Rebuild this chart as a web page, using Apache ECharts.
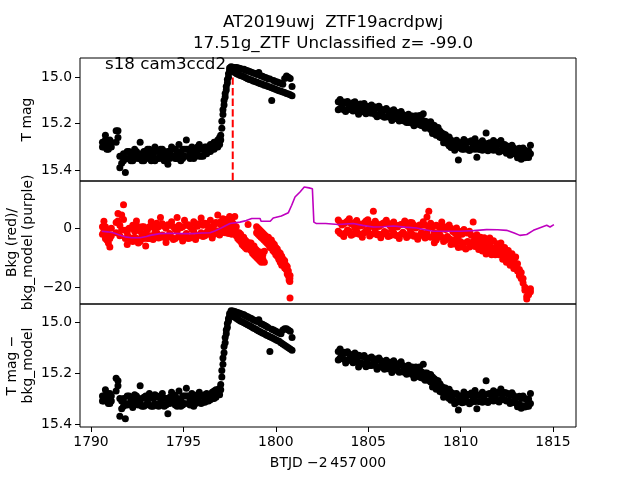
<!DOCTYPE html>
<html><head><meta charset="utf-8">
<script src="https://cdn.jsdelivr.net/npm/echarts@6.0.0/dist/echarts.min.js"></script>
<style>html,body{margin:0;padding:0;background:#fff}#c{width:640px;height:480px}</style>
</head><body><div id="c"></div>
<script>
// ---- time stamps (BTJD - 2457000) ----
const tA = [1790.62,1790.70,1790.78,1790.86,1790.94,1791.02,1791.10,
1791.36,1791.46,1791.56,1791.66,1791.76,1791.86,1791.96,
1792.06,1792.16,1792.26,1792.36,1792.46,1792.56,1792.66,1792.76,1792.86,1792.96,
1793.06,1793.16,1793.26,1793.36,1793.46,1793.56,1793.66,1793.76,1793.86,1793.96,
1794.06,1794.16,1794.26,1794.36,1794.46,1794.56,1794.66,1794.76,1794.86,1794.96,
1795.06,1795.16,1795.26,1795.36,1795.46,1795.56,1795.66,1795.76,1795.86,1795.96,
1796.06,1796.16,1796.26,1796.36,1796.46,1796.56,1796.66,1796.76,1796.86,1796.96,
1797.02,1797.08,1797.14,1797.20,1797.26,1797.32,1797.38,1797.44,1797.50,
1797.58,1797.68,1797.78,1797.88,1797.98,1798.08,1798.18,1798.28,1798.38,1798.48,
1798.58,1798.68,1798.78,1798.88,1798.98,1799.08,1799.18,1799.28,1799.38,1799.48,
1799.58,1799.68,1799.78,1799.88,1799.98,1800.08,1800.18,1800.28,1800.38,1800.48,
1800.58,1800.68,1800.78,1800.88];
const tB = [1803.38,1803.48,1803.58,1803.68,1803.78,1803.88,1803.98,1804.08,1804.18,1804.28,
1804.38,1804.48,1804.58,1804.68,1804.78,1804.88,1804.98,1805.08,1805.18,1805.28,
1805.38,1805.48,1805.58,1805.68,1805.78,1805.88,1805.98,1806.08,1806.18,1806.28,
1806.38,1806.48,1806.58,1806.68,1806.78,1806.88,1806.98,1807.08,1807.18,1807.28,
1807.38,1807.48,1807.58,1807.68,1807.78,1807.88,1807.98,1808.08,1808.18,1808.28,
1808.38,1808.48,1808.58,1808.68,1808.78,1808.88,1808.98,1809.08,1809.18,1809.28,
1809.38,1809.48,1809.58,1809.68,1809.78,1809.88,1809.98,1810.08,1810.18,1810.28,
1810.38,1810.48,1810.58,1810.68,1810.78,1810.88,1810.98,1811.08,1811.18,1811.28,
1811.38,1811.48,1811.58,1811.68,1811.78,1811.88,1811.98,1812.08,1812.18,1812.28,
1812.38,1812.48,1812.58,1812.68,1812.78,1812.88,1812.98,1813.08,1813.18,1813.28,
1813.38,1813.48,1813.58,1813.68,1813.78];

// ---- panel 1: T mag (two readings per time stamp, upper/lower part of the cloud) ----
const magA = [15.30,15.28,15.25,15.29,15.31,15.27,15.30,
15.23,15.26,15.39,15.34,15.36,15.41,15.32,
15.35,15.33,15.36,15.31,15.34,15.35,15.28,15.33,15.36,15.32,
15.34,15.31,15.36,15.33,15.30,15.35,15.32,15.34,15.31,15.36,
15.33,15.375,15.32,15.30,15.34,15.31,15.35,15.29,15.33,15.35,
15.31,15.27,15.34,15.32,15.30,15.35,15.31,15.33,15.29,15.34,
15.31,15.33,15.30,15.32,15.29,15.31,15.28,15.30,15.27,15.29,
15.25,15.19,15.14,15.10,15.07,15.04,15.01,14.985,14.96,
14.955,14.957,14.958,14.958,14.960,14.962,14.965,14.966,14.970,14.972,
14.975,14.978,14.982,14.984,14.988,14.980,14.993,14.996,15.000,15.002,
15.006,15.008,15.100,15.014,15.018,15.020,15.024,15.026,15.030,15.005,
14.995,15.000,15.005,15.040];
const magA2 = [15.28,15.30,15.27,15.31,15.29,15.30,15.28,
15.28,15.23,15.34,15.37,15.33,15.35,15.35,
15.32,15.36,15.33,15.35,15.32,15.33,15.35,15.36,15.32,15.35,
15.31,15.35,15.32,15.35,15.36,15.32,15.35,15.31,15.35,15.32,
15.35,15.32,15.35,15.34,15.31,15.35,15.32,15.34,15.36,15.31,
15.34,15.31,15.31,15.35,15.33,15.31,15.34,15.30,15.34,15.31,
15.34,15.30,15.33,15.30,15.32,15.29,15.31,15.28,15.30,15.26,
15.27,15.22,15.16,15.12,15.085,15.055,15.025,15.00,14.97,
14.965,14.975,14.980,14.985,14.988,14.992,14.995,14.998,15.002,15.006,
15.010,15.012,15.016,15.018,15.022,15.025,15.028,15.030,15.034,15.036,
15.040,15.042,15.045,15.048,15.052,15.055,15.058,15.060,15.064,15.066,
15.070,15.072,15.075,15.080];
const magB = [15.140,15.096,15.127,15.107,15.148,15.104,15.135,15.118,15.145,15.105,
15.128,15.159,15.115,15.144,15.113,15.157,15.129,15.153,15.120,15.147,
15.128,15.170,15.125,15.158,15.145,15.172,15.135,15.170,15.145,15.186,
15.140,15.170,15.154,15.189,15.147,15.183,15.167,15.195,15.159,15.183,
15.167,15.209,15.166,15.198,15.165,15.208,15.157,15.220,15.193,15.219,
15.192,15.242,15.208,15.250,15.217,15.258,15.240,15.282,15.248,15.285,
15.257,15.303,15.280,15.315,15.271,15.356,15.287,15.310,15.268,15.303,
15.278,15.316,15.274,15.299,15.265,15.345,15.283,15.311,15.274,15.304,
15.240,15.317,15.282,15.310,15.273,15.303,15.281,15.322,15.272,15.313,
15.290,15.327,15.299,15.336,15.293,15.330,15.312,15.347,15.306,15.353,
15.305,15.347,15.319,15.346,15.293];
const magB2 = [15.105,15.135,15.112,15.140,15.110,15.138,15.115,15.140,15.110,15.140,
15.145,15.118,15.142,15.120,15.150,15.125,15.152,15.125,15.155,15.130,
15.160,15.135,15.165,15.138,15.168,15.140,15.170,15.145,15.172,15.150,
15.178,15.150,15.180,15.158,15.185,15.160,15.190,15.165,15.195,15.170,
15.198,15.175,15.200,15.180,15.205,15.180,15.210,15.190,15.215,15.198,
15.225,15.205,15.235,15.218,15.250,15.232,15.262,15.245,15.278,15.262,
15.295,15.270,15.300,15.278,15.305,15.282,15.305,15.280,15.310,15.285,
15.310,15.280,15.310,15.280,15.310,15.285,15.310,15.285,15.315,15.285,
15.310,15.285,15.310,15.288,15.315,15.290,15.315,15.290,15.318,15.295,
15.318,15.295,15.322,15.300,15.328,15.305,15.330,15.310,15.335,15.315,
15.340,15.315,15.345,15.318,15.330];
const eventT = 1797.67;
const eventSpan = [14.955, 15.447];

// ---- panel 2: background (red) and background model (purple) ----
const bkgA = [0.5,2.4,-3.5,-1.0,-5.0,-6.3,-2.5,
2.0,5.0,-2.5,4.5,8.0,-0.7,-5.5,
0.0,-4.0,1.0,-3.0,2.5,-5.0,-1.0,-2.5,0.5,-6.0,
-0.5,-3.5,2.2,-3.8,-0.8,1.7,-3.3,3.7,-2.3,0.7,
-4.8,1.2,-1.8,2.2,-3.8,-0.3,3.7,-2.8,0.2,-4.3,
2.7,-1.8,1.2,-3.3,-0.3,2.2,-3.8,0.7,-2.3,3.5,
-2.8,1.7,-1.3,0.2,2.7,-3.3,1.2,-0.8,4.5,-2.3,
2.2,0.2,3.2,-1.3,1.7,-0.3,2.7,-1.8,4.0];
const bkgA2 = [-2.0,-1.0,0.5,-4.0,-2.5,-3.5,0.0,
-1.5,2.5,1.0,-0.5,3.0,-3.5,-1.5,
-3.0,0.0,-4.5,-1.0,-3.5,0.5,-4.5,0.5,-3.5,-1.5,
-3.5,0.5,-2.5,0.5,-3.0,-1.5,0.5,-3.0,1.5,-3.0,
0.0,-3.0,1.0,-3.0,0.5,-3.5,-1.0,1.0,-3.0,0.5,
-2.5,1.0,-3.5,0.5,-3.0,-1.0,1.5,-2.5,1.5,-1.5,
1.0,-2.5,1.5,-2.0,-1.0,0.5,-2.0,2.0,-1.0,1.5,
-1.0,2.0,-0.5,2.5,-1.5,3.0,0.0,2.0,0.5];
const tDrop = [1797.62,1797.70,1797.78,1797.86,1797.94,1798.02,1798.10,1798.18,1798.26,1798.34,1798.42,1798.50,
1798.58,1798.66,1798.74,1798.82,1798.90,1798.98,1799.06,1799.14,1799.22,1799.30,1799.38,
1798.96,1799.04,1799.12,1799.20,1799.28,1799.36,1799.44,1799.52,1799.60,1799.68,1799.76,1799.84,1799.92,
1800.00,1800.08,1800.16,1800.24,1800.32,1800.40,1800.48,1800.56,1800.62,1800.68,1800.72,1800.76,1800.77];
const bkgDrop = [2.5,-1.0,4.0,-2.5,-1.5,-4.0,-2.0,-5.5,-3.0,-6.5,-4.5,1.25,
-7.0,-5.0,-8.5,-6.0,-9.5,-7.5,-10.5,-8.0,-11.5,-9.0,-7.8,
0.5,-2.0,-0.5,-3.0,-1.5,-4.0,-2.5,-5.0,-3.0,-6.5,-4.0,-7.5,-5.5,
-9.0,-7.0,-10.5,-8.5,-12.5,-10.5,-13.5,-12.5,-15.5,-14.5,-17.5,-18.0,-23.6];
const bkgDrop2 = [-2.0,1.5,-1.0,0.5,-3.5,-1.5,-4.5,-3.0,-6.0,-4.0,-7.0,-5.5,
-5.0,-7.5,-6.5,-9.0,-7.0,-10.0,-8.5,-11.0,-9.5,-10.5,-11.5,
-1.5,0.0,-2.5,-1.0,-3.5,-2.0,-4.5,-3.0,-5.5,-4.5,-6.5,-5.0,-8.0,
-6.5,-9.5,-8.0,-11.5,-9.5,-12.5,-11.0,-14.0,-13.0,-16.0,-16.5,-17.0,-16.0];
const bkgB = [2.8,-1.7,1.1,-2.8,2.0,-0.6,3.2,-2.4,1.3,0.1,
2.6,-1.9,0.8,-3.0,1.8,-0.8,2.9,-2.6,1.1,5.8,
2.4,-2.2,0.6,-3.2,1.6,-1.1,2.7,-2.8,0.9,-0.4,
2.1,-2.4,0.4,-3.5,1.3,-1.3,2.5,-3.1,0.6,-0.6,
1.9,-2.7,0.1,-3.7,1.1,-1.5,2.2,-3.3,3.8,5.8,
1.7,-2.8,-4.9,-4.0,0.7,-2.1,2.1,-4.5,-0.4,-2.8,
1.1,-5.5,-1.1,-5.3,0.1,-6.5,-1.1,-6.3,-0.4,-7.0,
-1.6,-6.3,-2.4,2.1,-6.2,-2.2,-7.2,-3.0,-7.7,-3.2,
-8.7,-5.0,-3.3,-9.0,-4.2,-9.0,-5.2,-9.0,-5.0,-10.5,
-6.5,-11.5,-7.5,-12.5,-8.6,-13.6,-9.7,-14.5,-16.0,-15.0,
-18.5,-20.0,-23.0,-22.5,-20.5];
const bkgB2 = [-1.0,2.0,-2.0,1.5,-1.5,2.5,-1.0,1.5,-2.0,2.0,
-1.0,1.5,-2.0,1.0,-1.5,2.5,-0.5,1.5,-2.0,0.5,
-1.0,1.5,-2.0,1.0,-2.0,2.0,-1.5,1.5,-2.5,1.5,
-1.5,1.0,-2.5,1.0,-2.0,1.5,-2.0,1.0,-2.5,2.0,
-2.0,1.0,-2.5,0.5,-2.5,1.0,-2.0,1.0,-1.5,0.5,
-3.0,0.5,-1.5,1.0,-3.0,0.0,-3.0,0.5,-4.0,0.5,
-3.5,0.0,-4.0,-1.5,-3.5,-2.5,-4.5,-2.0,-5.0,-1.5,
-4.5,-1.0,-5.5,-4.5,-3.5,-6.0,-4.5,-6.0,-5.0,-6.5,
-5.5,-7.5,-6.0,-6.5,-8.0,-6.5,-8.0,-6.5,-8.5,-7.5,
-9.0,-9.0,-10.5,-10.0,-11.5,-11.0,-12.0,-12.0,-14.0,-17.0,
-17.0,-21.0,-24.0,-21.0,-21.5];
const modelT = [1790.58,1790.9,1791.2,1791.5,1791.84,1792.2,1792.65,1793.0,1793.2,1793.73,1794.3,1794.9,
1795.5,1796.0,1796.44,1796.7,1796.98,1797.25,1797.52,1798.06,1798.4,1798.7,1799.15,1799.2,1799.7,1799.86,
1800.3,1800.68,1800.86,1801.04,1801.31,1801.54,1801.8,1801.98,1802.06,1802.2,1802.7,1803.38,1804.19,1804.7,
1805.28,1805.8,1806.36,1807.0,1807.62,1808.0,1808.52,1809.3,1809.97,1810.7,1811.41,1812.0,1812.49,1812.9,
1813.21,1813.58,1813.94,1814.3,1814.66,1814.84,1815.05];
const modelV = [-1.0,-1.2,-1.5,-2.2,-2.9,-3.2,-3.2,-2.8,-2.4,-1.8,-1.7,-1.8,
-1.8,-1.6,-1.5,-0.9,-0.1,0.8,1.6,2.1,2.6,3.3,3.3,2.4,2.4,3.5,
4.2,5.3,7.8,10.6,12.3,14.0,13.7,13.4,2.1,1.6,1.6,1.3,1.6,1.0,
0.45,0.5,0.8,0.4,0.1,-0.4,-1.0,-1.0,-1.0,-0.8,-0.45,-0.5,-0.7,-1.6,
-2.4,-2.1,-0.7,0.2,1.0,0.45,1.25];

// ---- panel 3: T mag - bkg_model ----
const corrA = [15.31,15.29,15.265,15.30,15.32,15.28,15.31,
15.22,15.25,15.37,15.31,15.33,15.38,15.29,
15.32,15.30,15.335,15.285,15.31,15.325,15.25,15.30,15.33,15.29,
15.315,15.28,15.33,15.30,15.285,15.325,15.295,15.315,15.28,15.33,
15.30,15.36,15.295,15.275,15.315,15.29,15.33,15.27,15.305,15.325,
15.29,15.26,15.32,15.30,15.28,15.33,15.295,15.31,15.275,15.32,
15.29,15.315,15.28,15.31,15.285,15.30,15.27,15.295,15.265,15.285,
15.245,15.19,15.14,15.095,15.06,15.03,15.005,14.985,14.965,
14.955,14.956,14.958,14.960,14.962,14.965,14.968,14.970,14.975,14.978,
14.982,14.985,14.990,14.993,14.997,14.990,15.005,15.008,15.012,15.016,
15.020,15.115,15.027,15.030,15.034,15.038,15.042,15.045,15.030,15.025,
15.025,15.030,15.035,15.060];
const corrA2 = [15.29,15.31,15.30,15.28,15.30,15.32,15.29,
15.27,15.23,15.30,15.34,15.30,15.32,15.325,
15.29,15.325,15.30,15.32,15.29,15.30,15.32,15.33,15.295,15.325,
15.29,15.325,15.295,15.33,15.32,15.29,15.33,15.29,15.325,15.30,
15.325,15.30,15.32,15.31,15.285,15.325,15.30,15.315,15.33,15.29,
15.32,15.29,15.29,15.325,15.31,15.29,15.32,15.285,15.315,15.29,
15.315,15.285,15.31,15.285,15.305,15.275,15.30,15.265,15.285,15.26,
15.265,15.215,15.165,15.12,15.08,15.045,15.02,14.995,14.975,
14.968,14.975,14.980,14.985,14.990,14.995,14.998,15.002,15.006,15.010,
15.014,15.018,15.022,15.025,15.030,15.034,15.038,15.042,15.045,15.050,
15.053,15.057,15.060,15.064,15.068,15.072,15.075,15.080,15.085,15.090,
15.095,15.100,15.105,15.110];
const corrB = [15.148,15.105,15.136,15.118,15.160,15.116,15.148,15.132,15.159,15.121,
15.145,15.176,15.133,15.162,15.131,15.175,15.146,15.170,15.137,15.163,
15.144,15.185,15.140,15.173,15.159,15.185,15.149,15.183,15.157,15.198,
15.151,15.181,15.164,15.197,15.155,15.192,15.176,15.204,15.169,15.193,
15.176,15.219,15.176,15.208,15.176,15.218,15.165,15.228,15.200,15.229,
15.205,15.255,15.222,15.263,15.230,15.272,15.253,15.295,15.259,15.294,
15.263,15.307,15.281,15.321,15.280,15.345,15.295,15.317,15.274,15.309,
15.284,15.321,15.278,15.303,15.268,15.340,15.286,15.312,15.275,15.305,
15.230,15.316,15.280,15.307,15.269,15.298,15.275,15.314,15.262,15.301,
15.276,15.310,15.282,15.320,15.277,15.314,15.296,15.332,15.291,15.338,
15.290,15.333,15.305,15.330,15.280];
const corrB2 = [15.115,15.140,15.122,15.145,15.120,15.148,15.125,15.150,15.128,15.155,
15.155,15.130,15.160,15.135,15.165,15.140,15.165,15.140,15.170,15.145,
15.170,15.148,15.175,15.150,15.178,15.155,15.180,15.158,15.182,15.160,
15.185,15.162,15.190,15.168,15.195,15.170,15.198,15.175,15.200,15.180,
15.205,15.185,15.210,15.190,15.215,15.195,15.220,15.200,15.222,15.205,
15.235,15.215,15.245,15.228,15.260,15.242,15.275,15.258,15.288,15.270,
15.300,15.275,15.305,15.282,15.315,15.290,15.312,15.288,15.315,15.290,
15.312,15.285,15.315,15.285,15.312,15.288,15.312,15.285,15.315,15.285,
15.310,15.282,15.308,15.285,15.310,15.282,15.308,15.280,15.305,15.282,
15.305,15.278,15.308,15.285,15.312,15.288,15.318,15.295,15.322,15.300,
15.328,15.300,15.330,15.302,15.320];

// ---- ticks ----
const xTicks = [1790,1795,1800,1805,1810,1815];
const magTicks = [15.0,15.2,15.4];
const bkgTicks = [0,-20];

// ---------------------------------------------------------------
const zip = (t, v) => v.map((y, i) => [t[i], y]);
const F = '"DejaVu Sans", Verdana, sans-serif';
const FS = 13.9;
const xMin = 1789.405, xMax = 1816.245;
const minus = s => String(s).replace('-', '\u2212');

const gridBase = {left: 80, width: 496, height: 123, show: true, borderColor: '#000', borderWidth: 1, backgroundColor: 'rgba(0,0,0,0)'};
const grids = [58, 181, 304].map(top => Object.assign({top}, gridBase));

function xAx(i, show) {
  return {type: 'value', gridIndex: i, min: xMin, max: xMax,
    axisLine: {show: false}, splitLine: {show: false},
    axisTick: {show: show, customValues: xTicks, length: 5, lineStyle: {color: '#000', width: 1}},
    axisLabel: {show: show, customValues: xTicks, margin: 8, color: '#000', fontSize: FS, fontFamily: F,
      formatter: v => String(Math.round(v))}};
}
function yAx(i, min, max, inverse, ticks, fmt) {
  return {type: 'value', gridIndex: i, min, max, inverse,
    axisLine: {show: false}, splitLine: {show: false},
    axisTick: {show: true, customValues: ticks, length: 5, lineStyle: {color: '#000', width: 1}},
    axisLabel: {show: true, customValues: ticks, margin: 8, color: '#000', fontSize: FS, fontFamily: F, formatter: fmt}};
}
const sym = 7;
const dot = (i, data, color) => ({type: 'scatter', xAxisIndex: i, yAxisIndex: i, data, symbol: 'circle',
  symbolSize: sym, itemStyle: {color, opacity: 1}, z: 3, silent: true, large: false});

const chart = echarts.init(document.getElementById('c'), null, {renderer: 'canvas', width: 640, height: 480});
chart.setOption({
  animation: false,
  backgroundColor: '#fff',
  title: {text: 'AT2019uwj  ZTF19acrdpwj\n17.51g_ZTF Unclassified z= -99.0', left: 328, top: 7, textAlign: 'center',
    textStyle: {fontFamily: F, fontSize: 16.7, fontWeight: 'normal', color: '#000', lineHeight: 21}},
  grid: grids,
  xAxis: [xAx(0, false), xAx(1, false), xAx(2, true)],
  yAxis: [
    yAx(0, 14.917, 15.447, true, magTicks, v => v.toFixed(1)),
    yAx(1, -25.66, 16.03, false, bkgTicks, v => minus(v)),
    yAx(2, 14.928, 15.412, true, magTicks, v => v.toFixed(1))
  ],
  series: [
    {type: 'line', xAxisIndex: 0, yAxisIndex: 0, data: eventSpan.map(y => [eventT, y]), symbol: 'none',
      lineStyle: {color: '#ff0000', width: 2, type: [7.4, 3.2]}, z: 2, silent: true},
    dot(0, zip(tA, magA).concat(zip(tA, magA2)), '#000'),
    dot(0, zip(tB, magB).concat(zip(tB, magB2)), '#000'),
    dot(1, zip(tA, bkgA).concat(zip(tA, bkgA2)), '#ff0000'),
    dot(1, zip(tDrop, bkgDrop).concat(zip(tDrop, bkgDrop2)), '#ff0000'),
    dot(1, zip(tB, bkgB).concat(zip(tB, bkgB2)), '#ff0000'),
    {type: 'line', xAxisIndex: 1, yAxisIndex: 1, data: zip(modelT, modelV), symbol: 'none',
      lineStyle: {color: '#bf00bf', width: 1.6}, z: 5, silent: true},
    dot(2, zip(tA, corrA).concat(zip(tA, corrA2)), '#000'),
    dot(2, zip(tB, corrB).concat(zip(tB, corrB2)), '#000')
  ],
  graphic: [
    {type: 'text', x: 105, y: 65, silent: true, z: 10,
      style: {text: 's18 cam3ccd2', fontFamily: F, fontSize: 16.7, fill: '#000', textAlign: 'left', textVerticalAlign: 'middle'}},
    {type: 'text', x: 27, y: 119.5, rotation: Math.PI / 2, silent: true,
      style: {text: 'T mag', fontFamily: F, fontSize: FS, fill: '#000', textAlign: 'center', textVerticalAlign: 'middle'}},
    {type: 'text', x: 20, y: 242.5, rotation: Math.PI / 2, silent: true,
      style: {text: 'Bkg (red)/\nbkg_model (purple)', fontFamily: F, fontSize: FS, lineHeight: 16, fill: '#000', textAlign: 'center', textVerticalAlign: 'middle'}},
    {type: 'text', x: 20, y: 365.5, rotation: Math.PI / 2, silent: true,
      style: {text: 'T mag \u2212\nbkg_model', fontFamily: F, fontSize: FS, lineHeight: 16, fill: '#000', textAlign: 'center', textVerticalAlign: 'middle'}},
    {type: 'text', x: 328, y: 463, silent: true,
      style: {text: 'BTJD \u22122\u2009457\u2009000', fontFamily: F, fontSize: FS, fill: '#000', textAlign: 'center', textVerticalAlign: 'middle'}}
  ]
});
</script>
</body></html>
